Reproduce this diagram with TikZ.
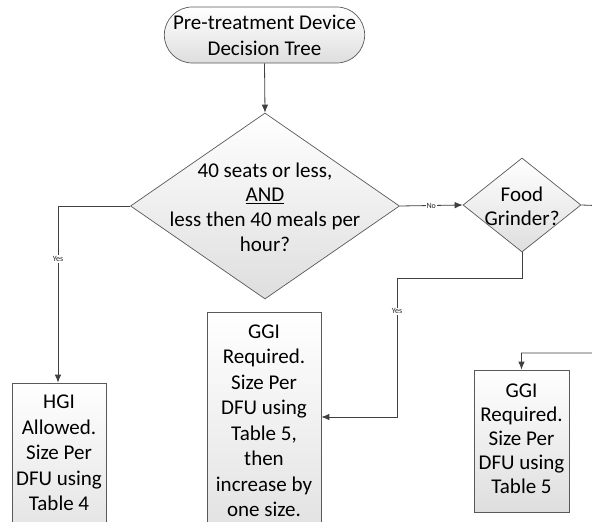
\documentclass[tikz,border=0pt]{standalone}
\usepackage{fontspec}
\setmainfont{Carlito}
\usetikzlibrary{shapes.geometric,shapes.misc,arrows.meta}
\begin{document}
\begin{tikzpicture}[x=1pt,y=-1pt,
  outline/.style={draw=black!65, line width=0.7pt},
  shade/.style={top color=white, bottom color=black!13},
  term/.style={outline, shade, rounded rectangle, minimum width=199pt, minimum height=56pt, inner sep=0pt, align=center, font=\fontsize{21}{26}\selectfont},
  dia/.style={outline, shade, diamond, inner sep=0pt},
  dtext/.style={align=center, inner sep=0pt},
  box/.style={outline, shade, rectangle, inner sep=0pt},
  btext/.style={align=center, inner sep=0pt, font=\fontsize{21}{25.5}\selectfont},
  conn/.style={draw=black!75, line width=0.8pt, -{Latex[length=8pt,width=6.5pt]}},
  lbl/.style={fill=white, inner sep=1pt, font=\fontsize{8}{9}\selectfont, text=black!85},
]
\useasboundingbox (0,0) rectangle (592,522);
\clip (0,0) rectangle (592,522);
\fill[white] (0,0) rectangle (592,522);

% start
\node[term] (start) at (264.5,35) {Pre-treatment Device\\Decision Tree};

% main decision
\node[dia, minimum width=269pt, minimum height=186pt] (d1) at (265,206) {};
\node[dtext, font=\fontsize{21}{24.8}\selectfont] (d1t) at (265,207) {40 seats or less,\\\underline{AND}\\less then 40 meals per\\hour?};

% food grinder decision
\node[dia, minimum width=118pt, minimum height=94pt] (d2) at (522,205) {};
\node[dtext, font=\fontsize{21}{23.5}\selectfont] (d2t) at (522,206.5) {Food\\Grinder?};

% HGI box
\node[box, minimum width=94pt, minimum height=180pt] (hgi) at (59,473) {};
\node[btext] (hgit) at (59,453) {HGI\\Allowed.\\Size Per\\DFU using\\Table 4};

% GGI box (middle)
\node[box, minimum width=114pt, minimum height=250pt] (ggi1) at (264,437) {};
\node[btext] (ggi1t) at (264,421) {GGI\\Required.\\Size Per\\DFU using\\Table 5,\\then\\increase by\\one size.};

% GGI box (right)
\node[box, minimum width=95pt, minimum height=142pt] (ggi2) at (521.5,441) {};
\node[btext, font=\fontsize{21}{24}\selectfont] (ggi2t) at (521.5,438.5) {GGI\\Required.\\Size Per\\DFU using\\Table 5};

% helper coordinates
\coordinate (c1) at (58,206);
\coordinate (j1) at (397,278);
\coordinate (j2) at (397,417);
\coordinate (off1) at (610,206);
\coordinate (off2) at (610,353);

% connectors
\draw[conn] (start.south) -- (d1.north);
\draw[conn] (d1.west) -- (c1) -- (c1 |- hgi.north)
  node[lbl, pos=0.3] (yes1) {Yes};
\draw[conn] (d1.east) -- (d2.west) node[lbl, midway] (no1) {No};
\draw[conn] (d2.south) |- (j1) -- (j2) node[lbl, pos=0.24] (yes2) {Yes} -- (j2 -| ggi1.east);
\draw[conn] (d2.east) -- (off1) -- (off2) -| (ggi2.north);
\end{tikzpicture}
\end{document}
